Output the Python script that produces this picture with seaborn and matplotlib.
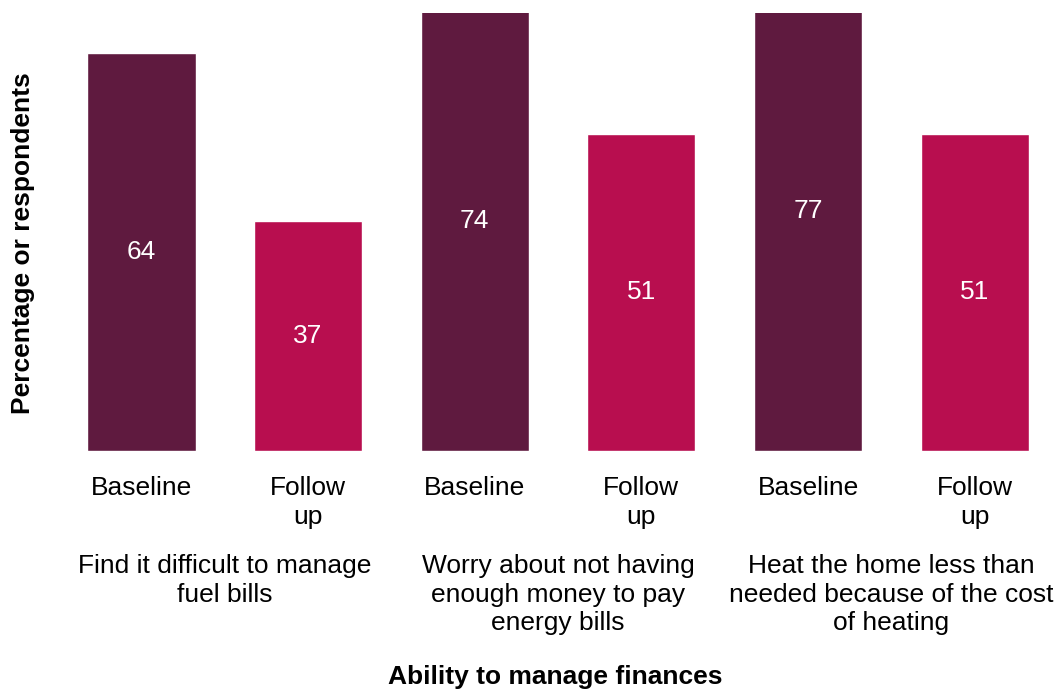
import matplotlib
matplotlib.use("Agg")
import matplotlib.pyplot as plt
import seaborn as sns
import pandas as pd

# data
groups = [
    "Find it difficult to manage\nfuel bills",
    "Worry about not having\nenough money to pay\nenergy bills",
    "Heat the home less than\nneeded because of the cost\nof heating",
]
timepoints = ["Baseline", "Follow\nup"]
baseline = [64, 74, 77]
follow_up = [37, 51, 51]

colors = {"Baseline": "#5F1A3F", "Follow\nup": "#B80E4F"}

rows = []
for i, g in enumerate(groups):
    rows.append({"slot": f"{i}-0", "time": timepoints[0], "value": baseline[i]})
    rows.append({"slot": f"{i}-1", "time": timepoints[1], "value": follow_up[i]})
df = pd.DataFrame(rows)

sns.set_theme(style="white")
plt.rcParams["font.family"] = ["Liberation Sans", "DejaVu Sans"]
plt.rcParams["text.color"] = "black"
plt.rcParams["axes.labelcolor"] = "black"
plt.rcParams["xtick.color"] = "black"

fig = plt.figure(figsize=(10.58, 6.89), dpi=100)
ax = fig.add_axes([58 / 1058, 1 - 451 / 689, 1000 / 1058, 438 / 689])

sns.barplot(data=df, x="slot", y="value", hue="time", palette=colors,
            dodge=False, width=0.65, legend=False, ax=ax, saturation=1)

ax.set_ylim(0, 70.4)
ax.set_xlim(-0.5, 5.5)
for c in ax.containers:
    for bar, v in zip(c, c.datavalues):
        if v > 0:
            ax.text(bar.get_x() + bar.get_width() / 2, v / 2, f"{v:.0f}",
                    ha="center", va="center", color="white", fontsize=19)

ax.set_xticks(range(6))
ax.set_xticklabels(timepoints * 3, fontsize=19, linespacing=1.25)
ax.tick_params(axis="x", length=0, pad=18)
ax.set_yticks([])
sns.despine(ax=ax, left=True, bottom=True)

for i, g in enumerate(groups):
    ax.annotate(g, xy=(2 * i + 0.5, 0), xycoords=("data", "axes fraction"),
                xytext=(0, -74), textcoords="offset points",
                ha="center", va="top", fontsize=19, linespacing=1.25,
                annotation_clip=False)

ax.set_xlabel("")
fig.text(555 / 1058, 1 - 677 / 689, "Ability to manage finances",
         ha="center", va="center", fontsize=19, fontweight="bold")
ax.set_ylabel("Percentage or respondents", fontsize=19, fontweight="bold")
ax.yaxis.set_label_coords(-0.023, 0.475)

fig.savefig("out.png", dpi=100)
